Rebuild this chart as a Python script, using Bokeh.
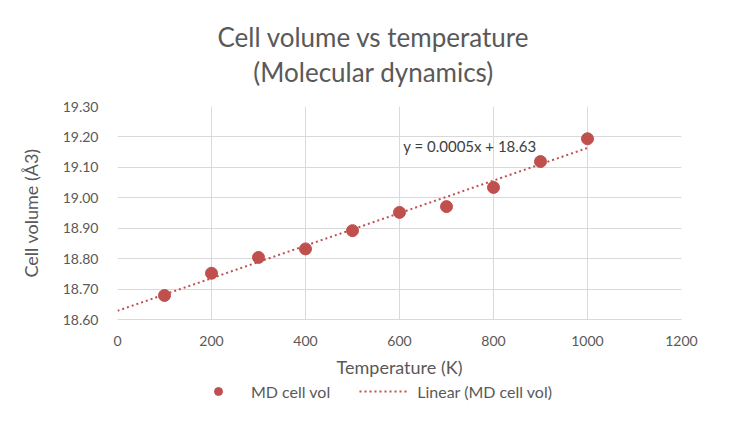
import numpy as np
from bokeh.plotting import figure
from bokeh.layouts import column
from bokeh.models import Label, Legend, LegendItem, FixedTicker, NumeralTickFormatter
from bokeh.embed import file_html
from bokeh.resources import INLINE

temperature = [100, 200, 300, 400, 500, 600, 700, 800, 900, 1000]
cell_vol = [18.679, 18.752, 18.804, 18.832, 18.892, 18.952, 18.971, 19.034, 19.119, 19.194]

x_ticks = [0, 200, 400, 600, 800, 1000, 1200]
y_ticks = [18.6, 18.7, 18.8, 18.9, 19.0, 19.1, 19.2, 19.3]

FONT = "Lato"
GREY = "#595959"
RED = "#C0504D"

# linear trendline, forecast back to 0 like excel
slope, icept = np.polyfit(temperature, cell_vol, 1)
trend_x = [0, temperature[-1]]
trend_y = [icept + slope * t for t in trend_x]

p = figure(
    width=730, height=380,
    x_range=(0, 1200), y_range=(18.6, 19.3),
    output_backend="svg", toolbar_location=None,
    min_border_left=117, min_border_right=49,
    min_border_top=105, min_border_bottom=61,
)
p.outline_line_color = None

# excel centres the title on the whole chart, not the plot area
p.title.text = "Cell volume vs temperature\n(Molecular dynamics)"
p.title.align = "left"
p.title.offset = 100
p.title.text_align = "center"
p.title.text_line_height = 1.1
p.title.text_font = FONT
p.title.text_font_size = "26px"
p.title.text_font_style = "normal"
p.title.text_color = GREY
p.title.standoff = 37

for ax in (p.xaxis, p.yaxis):
    ax.major_tick_line_color = None
    ax.minor_tick_line_color = None
    ax.major_label_text_font = FONT
    ax.major_label_text_font_size = "14px"
    ax.major_label_text_color = GREY
    ax.axis_label_text_font = FONT
    ax.axis_label_text_font_size = "18px"
    ax.axis_label_text_font_style = "normal"
    ax.axis_label_text_color = GREY
p.xaxis.axis_line_color = "#d9d9d9"
p.yaxis.axis_line_color = None
p.xaxis.ticker = FixedTicker(ticks=x_ticks)
p.yaxis.ticker = FixedTicker(ticks=y_ticks)
p.yaxis.formatter = NumeralTickFormatter(format="0.00")
p.xaxis.major_label_standoff = 10
p.yaxis.major_label_standoff = 13
p.xaxis.axis_label_standoff = 7
p.yaxis.axis_label_standoff = 18
p.xaxis.axis_label = "Temperature (K)"
p.yaxis.axis_label = "Cell volume (Å3)"

p.grid.grid_line_color = "#d9d9d9"
p.grid.grid_line_width = 1

p.scatter(temperature, cell_vol, size=12, color=RED)
p.line(trend_x, trend_y, color=RED, line_width=2, line_dash="2 3")

p.add_layout(Label(x=608, y=19.17, text="y = 0.0005x + 18.63", text_font=FONT,
                   text_font_size="15px", text_color="#404040", text_baseline="middle"))

# legend strip under the chart; its renderers sit outside its ranges
lg = figure(width=730, height=29, x_range=(0, 1), y_range=(0, 1),
            output_backend="svg", toolbar_location=None, min_border=0,
            x_axis_location=None, y_axis_location=None)
lg.outline_line_color = None
lg.grid.visible = False
pts = lg.scatter(temperature, cell_vol, size=12, color=RED)
trend = lg.line(trend_x, trend_y, color=RED, line_width=2, line_dash="2 3")
legend = Legend(
    items=[LegendItem(label="MD cell vol", renderers=[pts]),
           LegendItem(label="Linear (MD cell vol)", renderers=[trend])],
    orientation="horizontal", location=(76, 8),
    label_text_font=FONT, label_text_font_size="16px", label_text_color=GREY,
    background_fill_alpha=0, border_line_color=None,
    glyph_width=50, glyph_height=20, label_height=20,
    spacing=29, label_standoff=8, padding=0, margin=0,
)
lg.add_layout(legend)

open("out.html", "w").write(file_html(column(p, lg, spacing=0), INLINE))
